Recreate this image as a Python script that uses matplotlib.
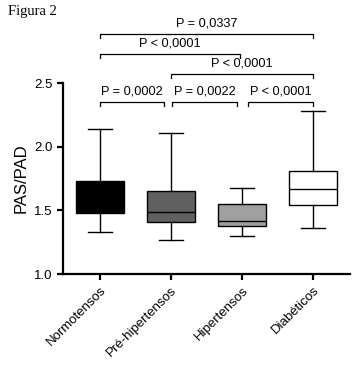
import matplotlib
matplotlib.use("Agg")
import matplotlib.pyplot as plt

plt.rcParams['font.family'] = ['Liberation Sans', 'DejaVu Sans']

groups = ['Normotensos', 'Pré-hipertensos', 'Hipertensos', 'Diabéticos']
whis_low = [1.33, 1.27, 1.30, 1.36]
q1 = [1.48, 1.41, 1.38, 1.54]
median = [1.60, 1.485, 1.42, 1.67]
q3 = [1.73, 1.65, 1.55, 1.81]
whis_high = [2.14, 2.11, 1.675, 2.28]
colors = ['#000000', '#606060', '#a0a0a0', '#ffffff']

# comparisons: (left, right, bracket height, label)
comparisons = [
    (0.0, 0.9, 2.35, 'P = 0,0002'),
    (1.02, 1.93, 2.35, 'P = 0,0022'),
    (2.08, 3.0, 2.35, 'P < 0,0001'),
    (1.0, 3.0, 2.57, 'P < 0,0001'),
    (0.0, 1.97, 2.73, 'P < 0,0001'),
    (0.0, 3.0, 2.885, 'P = 0,0337'),
]

fig = plt.figure(figsize=(3.59, 3.78), dpi=100)
ax = fig.add_axes([0.1755, 0.2751, 0.7995, 0.5053])

stats = []
for i in range(len(groups)):
    stats.append({'med': median[i], 'q1': q1[i], 'q3': q3[i],
                  'whislo': whis_low[i], 'whishi': whis_high[i], 'fliers': []})

bp = ax.bxp(stats, positions=range(len(groups)), widths=0.68, patch_artist=True,
            showfliers=False,
            boxprops=dict(linewidth=1.0, edgecolor='black'),
            medianprops=dict(color='black', linewidth=1.0),
            whiskerprops=dict(color='black', linewidth=1.0),
            capprops=dict(color='black', linewidth=1.0),
            capwidths=0.34)
for patch, c in zip(bp['boxes'], colors):
    patch.set_facecolor(c)

for x0, x1, h, label in comparisons:
    ax.plot([x0, x0, x1, x1], [h - 0.03, h, h, h - 0.03], color='black',
            linewidth=0.9, clip_on=False)
    ax.text((x0 + x1) / 2, h + 0.035, label, ha='center', va='bottom',
            fontsize=9.2, clip_on=False)

ax.set_xlim(-0.52, 3.52)
ax.set_ylim(1.0, 2.5)
ax.set_yticks([1.0, 1.5, 2.0, 2.5])
ax.set_yticklabels(['1.0', '1.5', '2.0', '2.5'], fontsize=9.5)
ax.set_xticks(range(len(groups)))
ax.set_xticklabels(groups, rotation=45, ha='right', rotation_mode='anchor', fontsize=9.5)
ax.set_ylabel('PAS/PAD', fontsize=12)

for s in ['top', 'right']:
    ax.spines[s].set_visible(False)
for s in ['left', 'bottom']:
    ax.spines[s].set_linewidth(1.6)
ax.tick_params(width=1.6, length=4)

fig.text(0.022, 0.988, 'Figura 2', family='Liberation Serif', fontsize=10.5,
         ha='left', va='top')

fig.savefig('out.png', dpi=100)
